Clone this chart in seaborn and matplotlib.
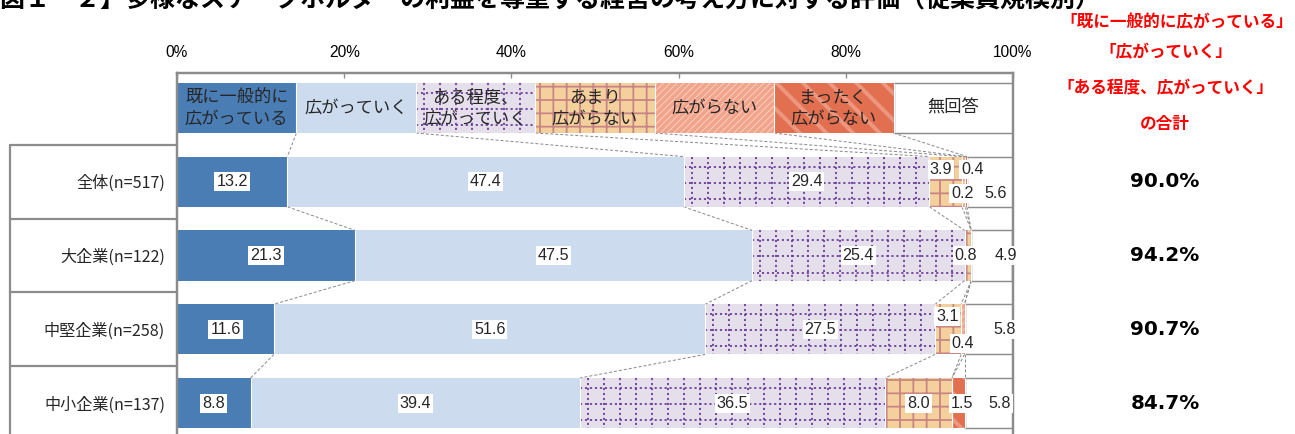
import numpy as np
import pandas as pd
import matplotlib
matplotlib.use('Agg')
import matplotlib.pyplot as plt
import matplotlib.transforms as mtransforms
import seaborn as sns

# ---------------- data ----------------
categories = ['全体(n=517)', '大企業(n=122)', '中堅企業(n=258)', '中小企業(n=137)']
series_names = ['既に一般的に広がっている', '広がっていく', 'ある程度、広がっていく',
                'あまり広がらない', '広がらない', 'まったく広がらない', '無回答']
legend_labels = ['既に一般的に\n広がっている', '広がっていく', 'ある程度、\n広がっていく',
                 'あまり\n広がらない', '広がらない', 'まったく\n広がらない', '無回答']
already = [13.2, 21.3, 11.6, 8.8]
spreading = [47.4, 47.5, 51.6, 39.4]
somewhat = [29.4, 25.4, 27.5, 36.5]
not_much = [3.9, 0.8, 3.1, 8.0]
not_spread = [0.4, 0.0, 0.4, 0.0]
not_at_all = [0.2, 0.0, 0.0, 1.5]
no_answer = [5.6, 4.9, 5.8, 5.8]
xticks = [0, 20, 40, 60, 80, 100]
xtick_labels = ['0%', '20%', '40%', '60%', '80%', '100%']
title_text = '【図１－２】多様なステークホルダーの利益を尊重する経営の考え方に対する評価（従業員規模別）'
note_lines = ['「既に一般的に広がっている」', '「広がっていく」', '「ある程度、広がっていく」', 'の合計']

series = [already, spreading, somewhat, not_much, not_spread, not_at_all, no_answer]

# ---------------- style ----------------
W, H, DPI = 1295, 434, 80
PT = 72.0 / DPI  # points per pixel
sns.set_style('white')
plt.rcParams['font.family'] = ['Noto Sans CJK JP', 'DejaVu Sans']
NUM_FONT = ['Liberation Sans Narrow', 'Liberation Sans', 'DejaVu Sans']

styles = [
    dict(fc='#4A7DB4'),
    dict(fc='#CCDBEE'),
    dict(fc='#E5DFEC', dotted='#6A3D9A'),
    dict(fc='#F3D09C', hatch='+', hc='#C98585', hlw=1.6),
    dict(fc='#F2A48B', hatch='////', hc='#FAD9CE', hlw=0.7),
    dict(fc='#E26F50', hatch='\\', hc='#EC977F', hlw=3.5),
    dict(fc='white', ec='#8C8C8C'),
]
GRAY = '#8C8C8C'
BAR_H = 0.68

fig = plt.figure(figsize=(W / DPI, H / DPI), dpi=DPI)
ax = fig.add_axes([177 / W, 0, 836 / W, (H - 73) / H])
PX_X = 836 / 100.0          # px per % unit


def style_patch(p, st):
    p.set_facecolor(st['fc'])
    if 'hatch' in st:
        p.set_edgecolor(st['hc'])
        p.set_linewidth(0)
        p.set_hatch(st['hatch'])
        try:
            p.set_hatch_linewidth(st['hlw'])
        except AttributeError:
            pass
    elif 'ec' in st:
        p.set_edgecolor(st['ec'])
        p.set_linewidth(1.3)
    else:
        p.set_edgecolor('none')
        p.set_linewidth(0)


def dotted_grid(x0, x1, yc, color):
    if x1 - x0 <= 0:
        return
    step = 16 / PX_X
    xs = np.arange(x0 + step * 0.5, x1 - step * 0.15, step)
    y0, y1 = yc - BAR_H / 2, yc + BAR_H / 2
    ax.vlines(xs, y0, y1, colors=color, linestyles=(0, (1.2, 1.6)), lw=1.6, zorder=3)
    for f in (0.2, 0.52, 0.84):
        ax.hlines(y0 + BAR_H * f, x0, x1, colors=color, linestyles=(0, (1.2, 1.6)), lw=1.6, zorder=3)


# ---------------- stacked bars via seaborn ----------------
cum = np.zeros(len(categories))
lefts = []
for k, vals in enumerate(series):
    st = styles[k]
    df = pd.DataFrame({'cat': categories, 'val': vals})
    sns.barplot(data=df, x='val', y='cat', order=categories, orient='h', color=st['fc'],
                saturation=1, width=BAR_H, errorbar=None, linewidth=0, ax=ax)
    cont = ax.containers[-1]
    for r, p in enumerate(cont.patches):
        p.set_x(cum[r])
        style_patch(p, st)
        if 'dotted' in st:
            dotted_grid(cum[r], cum[r] + vals[r], r, st['dotted'])
    lefts.append(cum.copy())
    cum = cum + np.array(vals)

# white separators between segments
for k in range(len(series) - 1):
    bnd = lefts[k] + np.array(series[k])
    for r in range(len(categories)):
        ax.vlines(bnd[r], r - BAR_H / 2, r + BAR_H / 2, colors='white', lw=1.0, zorder=4)

# ---------------- legend row (as a header row) ----------------
lw_ = 100.0 / len(series)
for k in range(len(series)):
    bars = ax.barh(-1, lw_, left=k * lw_, height=BAR_H)
    style_patch(bars.patches[0], styles[k])
    if 'dotted' in styles[k]:
        dotted_grid(k * lw_, (k + 1) * lw_, -1, styles[k]['dotted'])
    if k > 0:
        ax.vlines(k * lw_, -1 - BAR_H / 2, -1 + BAR_H / 2, colors='white', lw=1.0, zorder=4)
    ax.text((k + 0.5) * lw_, -1, legend_labels[k], ha='center', va='center',
            fontsize=15.5, linespacing=1.2, zorder=6)

# ---------------- dashed connectors ----------------
conn_kw = dict(color='#8A8A8A', lw=0.9, linestyle=(0, (3, 2)), zorder=2)
for k in range(len(series) - 1):
    top_x = (k + 1) * lw_
    bnd = lefts[k] + np.array(series[k])
    ax.plot([top_x, bnd[0]], [-1 + BAR_H / 2, 0 - BAR_H / 2], **conn_kw)
    for r in range(len(categories) - 1):
        ax.plot([bnd[r], bnd[r + 1]], [r + BAR_H / 2, r + 1 - BAR_H / 2], **conn_kw)

# ---------------- value labels ----------------
offsets = {  # (row, series) -> (dx px, dy px)
    (0, 3): (-5, -12), (0, 4): (9, -12), (0, 5): (-4, 12), (0, 6): (5, 12),
    (1, 3): (-2, 0), (1, 6): (14, 0),
    (2, 3): (-1, -13), (2, 4): (0, 14), (2, 6): (16, 0),
    (3, 5): (4, 0), (3, 6): (11, 0),
}
for k, vals in enumerate(series):
    for r, v in enumerate(vals):
        if v <= 0:
            continue
        xc = lefts[k][r] + v / 2
        dx, dy = offsets.get((r, k), (0, 0))
        ax.annotate(f'{v:.1f}', (xc, r), xytext=(dx * PT, -dy * PT), textcoords='offset points',
                    ha='center', va='center', fontsize=14.5, family=NUM_FONT, zorder=7,
                    bbox=dict(boxstyle='square,pad=0.12', fc='white', ec='none'))

# ---------------- axes styling ----------------
ax.set_xlim(0, 100)
ax.set_ylim(3.419, -1.473)
ax.set_xlabel('')
ax.set_ylabel('')
ax.xaxis.set_ticks_position('top')
ax.set_xticks(xticks)
ax.set_xticklabels(xtick_labels, family=NUM_FONT)
ax.tick_params(axis='x', direction='in', length=5 * PT, width=1.2, color=GRAY, pad=12,
               labelsize=14, labelcolor='black', top=True, bottom=False,
               labeltop=True, labelbottom=False)
ax.set_yticks(range(len(categories)))
ax.set_yticklabels(categories)
ax.tick_params(axis='y', length=0, pad=12 * PT, labelsize=14.5)
for s in ['top', 'left', 'right']:
    ax.spines[s].set_visible(True)
    ax.spines[s].set_color(GRAY)
    ax.spines[s].set_linewidth(2.2)
ax.spines['bottom'].set_visible(False)
ax.grid(False)

# category boxes on the left
bt = mtransforms.blended_transform_factory(ax.transAxes, ax.transData)
xl = (10 - 177) / 836
for yb in [-0.5, 0.5, 1.5, 2.5]:
    ax.plot([xl, 0], [yb, yb], color=GRAY, lw=2.0, transform=bt, clip_on=False, zorder=1)
ax.plot([xl, xl], [-0.5, 3.419], color=GRAY, lw=2.0, transform=bt, clip_on=False)

# totals of first three series
ft = mtransforms.blended_transform_factory(fig.transFigure, ax.transData)
totals = np.array(already) + np.array(spreading) + np.array(somewhat)
for r, t in enumerate(totals):
    ax.text(1165 / W, r, f'{t:.1f}%', transform=ft, ha='center', va='center',
            fontsize=18, fontweight='bold', family='DejaVu Sans', color='black')

# red note
for (x, y), line in zip([(1177, 22), (1166, 52), (1165, 88), (1165, 124)], note_lines):
    fig.text(x / W, 1 - y / H, line, ha='center', va='center', fontsize=15,
             fontweight='bold', color='#FF0000')

# title (its top is cut off in the reference)
fig.text(-25 / W, 1 - 7 / H, title_text, ha='left', va='baseline', fontsize=22.5,
         fontweight='bold', color='black')

fig.savefig('out.png', dpi=DPI)
